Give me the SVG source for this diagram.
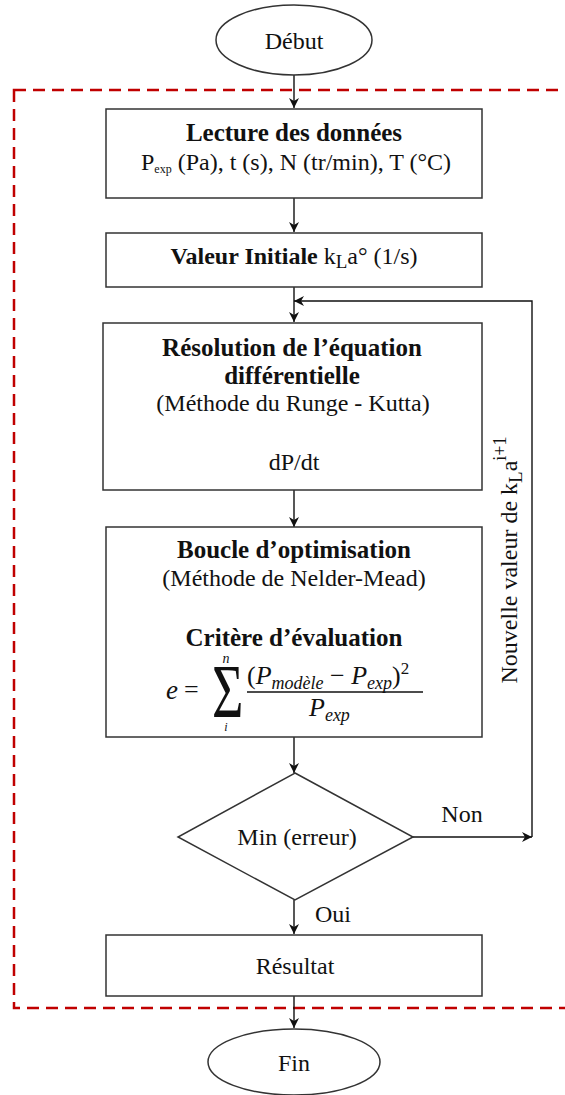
<svg xmlns="http://www.w3.org/2000/svg" width="565" height="1095" viewBox="0 0 565 1095">
<style>
.box{fill:#fff;stroke:#333;stroke-width:1.5}
.t{font-family:"Liberation Serif","Times New Roman",serif;font-size:24px;fill:#111;text-anchor:middle}
.b{font-weight:bold;font-size:25px}
.m{font-family:"Liberation Serif","Times New Roman",serif;font-style:italic;fill:#111}
.c{fill:none;stroke:#111;stroke-width:1.4}
</style>
<defs>
<marker id="ah" viewBox="0 0 10 10" refX="10" refY="5" markerWidth="10" markerHeight="10" orient="auto" markerUnits="userSpaceOnUse">
<path d="M0,0 L10,5 L0,10 L3,5 z" fill="#111"/>
</marker>
</defs>
<rect x="14" y="90" width="570" height="918" fill="none" stroke="#c00000" stroke-width="2.5" stroke-dasharray="12,7"/>
<g id="connectors">
<line class="c" x1="294" y1="75" x2="294" y2="108" marker-end="url(#ah)"/>
<line class="c" x1="294" y1="198" x2="294" y2="232" marker-end="url(#ah)"/>
<line class="c" x1="294" y1="287" x2="294" y2="322" marker-end="url(#ah)"/>
<line class="c" x1="294" y1="490" x2="294" y2="527" marker-end="url(#ah)"/>
<line class="c" x1="294" y1="737" x2="294" y2="773" marker-end="url(#ah)"/>
<line class="c" x1="413" y1="837" x2="532" y2="837" marker-end="url(#ah)"/>
<polyline class="c" points="532,837 532,301 294,301" marker-end="url(#ah)"/>
<line class="c" x1="294" y1="900" x2="294" y2="934" marker-end="url(#ah)"/>
<line class="c" x1="294" y1="996" x2="294" y2="1028" marker-end="url(#ah)"/>
<text class="t" x="462" y="822" font-size="26">Non</text>
<text class="t" x="315" y="922" style="text-anchor:start">Oui</text>
<text class="t" font-size="28" transform="translate(517,560) rotate(-90)">Nouvelle valeur de k<tspan font-size="19" dy="5">L</tspan><tspan dy="-5">a</tspan><tspan font-size="18" dy="-11">i+1</tspan></text>
</g>
<g id="debut">
<ellipse cx="294" cy="40" rx="78" ry="35" class="box"/>
<text class="t" x="294" y="49" font-size="28">Début</text>
</g>
<g id="lecture">
<rect class="box" x="106" y="109" width="376" height="89"/>
<text class="t b" x="294" y="141" font-size="26">Lecture des données</text>
<text class="t" x="296" y="170" font-size="20">P<tspan font-size="12" dy="3">exp</tspan><tspan dy="-3"> (Pa), t (s), N (tr/min), T (°C)</tspan></text>
</g>
<g id="valeur">
<rect class="box" x="106" y="233" width="376" height="54"/>
<text class="t" x="294" y="264" font-size="28"><tspan font-weight="bold">Valeur Initiale</tspan> k<tspan font-size="19" dy="4">L</tspan><tspan dy="-4">a° (1/s)</tspan></text>
</g>
<g id="resolution">
<rect class="box" x="103" y="323" width="379" height="167"/>
<text class="t b" x="292" y="356" font-size="26">Résolution de l’équation</text>
<text class="t b" x="292" y="384" font-size="26">différentielle</text>
<text class="t" x="293" y="411">(Méthode du Runge - Kutta)</text>
<text class="t" x="294" y="470">dP/dt</text>
</g>
<g id="boucle">
<rect class="box" x="106" y="527" width="376" height="210"/>
<text class="t b" x="294" y="558">Boucle d’optimisation</text>
<text class="t" x="294" y="586">(Méthode de Nelder-Mead)</text>
<text class="t b" x="294" y="646" font-size="26">Critère d’évaluation</text>
<text class="m" x="166" y="699" font-size="27">e</text>
<text x="184" y="698" font-family="Liberation Serif,serif" font-size="26" fill="#111">=</text>
<text font-family="Liberation Serif,serif" font-size="54" fill="#111" transform="translate(212,717) scale(1,1.4)">Σ</text>
<text class="m" x="226" y="663" font-size="14" text-anchor="middle">n</text>
<text class="m" x="226" y="731" font-size="12" text-anchor="middle">i</text>
<text class="m" x="247" y="684" font-size="26"><tspan font-style="normal">(</tspan>P<tspan font-size="18" dy="5">modèle</tspan><tspan dy="-5" font-style="normal"> − </tspan>P<tspan font-size="18" dy="5">exp</tspan><tspan dy="-5" font-style="normal">)</tspan><tspan font-size="17" dy="-10" font-style="normal">2</tspan></text>
<line x1="247" y1="692" x2="423" y2="692" stroke="#111" stroke-width="1.3"/>
<text class="m" x="309" y="716" font-size="26">P<tspan font-size="18" dy="5">exp</tspan></text>
</g>
<g id="min">
<polygon class="box" points="295,773 413,837 295,900 178,837"/>
<text class="t" x="297" y="845" font-size="27">Min (erreur)</text>
</g>
<g id="resultat">
<rect class="box" x="106" y="935" width="376" height="61"/>
<text class="t" x="295" y="974" font-size="29">Résultat</text>
</g>
<g id="fin">
<ellipse cx="294" cy="1062" rx="86" ry="33" class="box"/>
<text class="t" x="294" y="1071" font-size="28">Fin</text>
</g>
</svg>
